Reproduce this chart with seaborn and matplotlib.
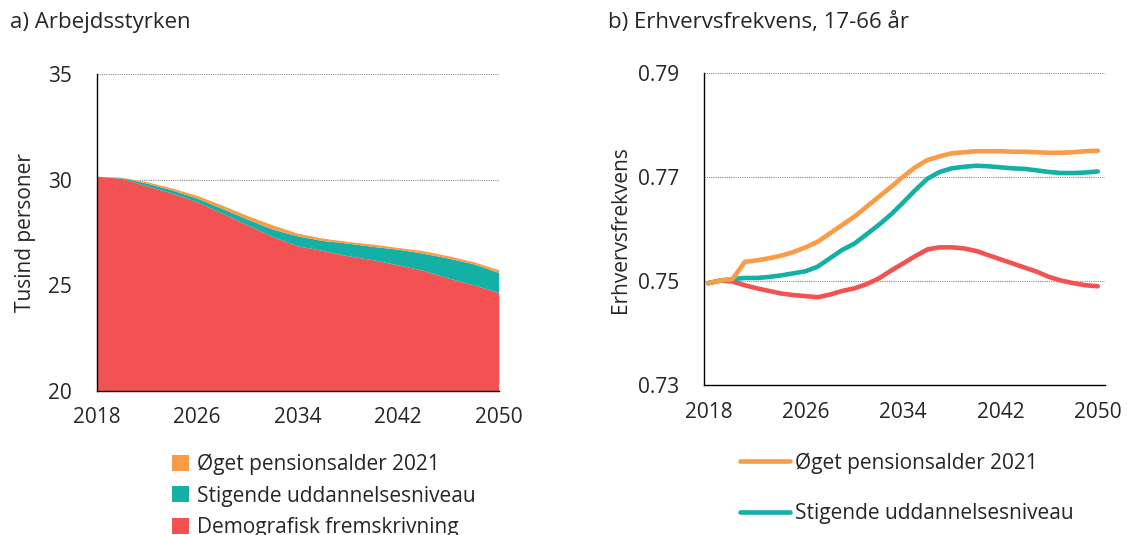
import numpy as np
import pandas as pd
import matplotlib
matplotlib.use("Agg")
import matplotlib.pyplot as plt
from matplotlib.patches import Patch
from matplotlib.lines import Line2D
import seaborn as sns

# a) Arbejdsstyrken, cumulative levels (tusind personer)
years_a = np.arange(2018, 2051, 2)
demografisk = [30.16, 30.06, 29.70, 29.36, 28.95, 28.41, 27.86, 27.31, 26.87,
               26.65, 26.40, 26.21, 25.97, 25.71, 25.35, 25.03, 24.67]
uddannelse = [30.16, 30.09, 29.83, 29.51, 29.12, 28.63, 28.13, 27.66, 27.34,
              27.12, 27.00, 26.84, 26.71, 26.52, 26.29, 26.02, 25.61]
pension = [30.16, 30.11, 29.90, 29.60, 29.25, 28.79, 28.30, 27.86, 27.47,
           27.23, 27.08, 26.95, 26.79, 26.64, 26.40, 26.12, 25.74]

# b) Erhvervsfrekvens, 17-66 aar
years_b = np.arange(2018, 2051)
frek_demo = [0.7496, 0.7501, 0.7499, 0.7492, 0.7486, 0.7481, 0.7476, 0.7473, 0.7471,
             0.7469, 0.7474, 0.7481, 0.7486, 0.7494, 0.7505, 0.7520, 0.7534, 0.7548,
             0.7561, 0.7565, 0.7565, 0.7563, 0.7558, 0.7550, 0.7542, 0.7534, 0.7526,
             0.7518, 0.7508, 0.7501, 0.7496, 0.7492, 0.7490]
frek_udd = [0.7496, 0.7501, 0.7504, 0.7506, 0.7506, 0.7508, 0.7511, 0.7515, 0.7519,
            0.7528, 0.7544, 0.7560, 0.7572, 0.7590, 0.7608, 0.7628, 0.7651, 0.7675,
            0.7697, 0.7710, 0.7717, 0.7720, 0.7722, 0.7721, 0.7719, 0.7717, 0.7716,
            0.7713, 0.7710, 0.7708, 0.7708, 0.7709, 0.7711]
frek_pens = [0.7496, 0.7501, 0.7504, 0.7537, 0.7540, 0.7544, 0.7549, 0.7556, 0.7565,
             0.7576, 0.7592, 0.7608, 0.7624, 0.7643, 0.7662, 0.7681, 0.7701, 0.7719,
             0.7733, 0.7740, 0.7746, 0.7748, 0.7750, 0.7750, 0.7750, 0.7749, 0.7749,
             0.7748, 0.7747, 0.7747, 0.7748, 0.7750, 0.7751]

labels = ["Øget pensionsalder 2021", "Stigende uddannelsesniveau", "Demografisk fremskrivning"]
c_orange, c_teal, c_red = "#F99B47", "#14AFA5", "#F25352"

sns.set_style("white")
plt.rcParams["font.family"] = ["Open Sans", "DejaVu Sans"]
fs = 15

fig = plt.figure(figsize=(11.48, 5.35), dpi=100)
ax1 = fig.add_axes([0.0842, 0.2686, 0.3502, 0.5936])
ax2 = fig.add_axes([0.6135, 0.2804, 0.3491, 0.5826])

# --- panel a: stacked area
ax1.fill_between(years_a, 20, demografisk, color=c_red, lw=0)
ax1.fill_between(years_a, demografisk, uddannelse, color=c_teal, lw=0)
ax1.fill_between(years_a, uddannelse, pension, color=c_orange, lw=0)
ax1.set_xlim(2018, 2050)
ax1.set_ylim(20, 35)
ax1.set_yticks([20, 25, 30, 35])
ax1.set_xticks(np.arange(2018, 2051, 4))
ax1.set_xticklabels(["2018", "", "2026", "", "2034", "", "2042", "", "2050"])
ax1.set_ylabel("Tusind personer", fontsize=fs)
ax1.yaxis.set_label_coords(-0.152, 0.5)
for y in [25, 30, 35]:
    ax1.axhline(y, color="#8a8a8a", lw=0.8, ls=(0, (1, 1)), zorder=0)

# --- panel b: lines
df_b = pd.DataFrame({"year": years_b, "demo": frek_demo, "udd": frek_udd, "pens": frek_pens})
for y in [0.75, 0.77, 0.79]:
    ax2.axhline(y, color="#8a8a8a", lw=0.8, ls=(0, (1, 1)), zorder=0)
sns.lineplot(data=df_b, x="year", y="demo", ax=ax2, color=c_red, lw=3.3,
             solid_capstyle="round")
sns.lineplot(data=df_b, x="year", y="udd", ax=ax2, color=c_teal, lw=3.3,
             solid_capstyle="round")
sns.lineplot(data=df_b, x="year", y="pens", ax=ax2, color=c_orange, lw=3.3,
             solid_capstyle="round")
ax2.set_xlim(2017.67, 2050.6)
ax2.set_ylim(0.73, 0.79)
ax2.set_yticks([0.73, 0.75, 0.77, 0.79])
ax2.set_yticklabels(["0.73", "0.75", "0.77", "0.79"])
ax2.set_xticks([2018, 2026, 2034, 2042, 2050])
ax2.set_xticks(np.arange(2018, 2051, 4) - 0.33, minor=True)
ax2.set_ylabel("Erhvervsfrekvens", fontsize=fs)
ax2.yaxis.set_label_coords(-0.183, 0.5)

for ax in (ax1, ax2):
    sns.despine(ax=ax)
    for s in ("left", "bottom"):
        ax.spines[s].set_color("black")
        ax.spines[s].set_linewidth(1.0)
    ax.tick_params(axis="y", length=6, width=1, direction="out", pad=12, labelsize=fs)
    ax.tick_params(axis="x", length=6, width=1, direction="out", pad=5, labelsize=fs)
    ax.set_xlabel("")

ax2.tick_params(axis="x", which="major", length=0, pad=12)
ax2.tick_params(axis="x", which="minor", length=6, width=1, direction="out")

# titles
fig.text(0.009, 0.958, "a) Arbejdsstyrken", fontsize=16, va="center", ha="left")
fig.text(0.5296, 0.958, "b) Erhvervsfrekvens, 17-66 år", fontsize=16, va="center", ha="left")

# legends
patches = [Patch(facecolor=c, edgecolor="none") for c in (c_orange, c_teal, c_red)]
fig.legend(patches, labels, loc="upper left", bbox_to_anchor=(0.1497, 0.152),
           frameon=False, fontsize=fs, handlelength=0.8, handleheight=0.8,
           handletextpad=0.4, labelspacing=0.5, borderpad=0, borderaxespad=0)
lines = [Line2D([0], [0], color=c_orange, lw=3.3, solid_capstyle="round"),
         Line2D([0], [0], color=c_teal, lw=3.3, solid_capstyle="round")]
fig.legend(lines, labels[:2], loc="upper left", bbox_to_anchor=(0.645, 0.155),
           frameon=False, fontsize=fs, handlelength=2.4, handletextpad=0.2,
           labelspacing=1.42, borderpad=0, borderaxespad=0)

fig.savefig("out.png", dpi=100)
